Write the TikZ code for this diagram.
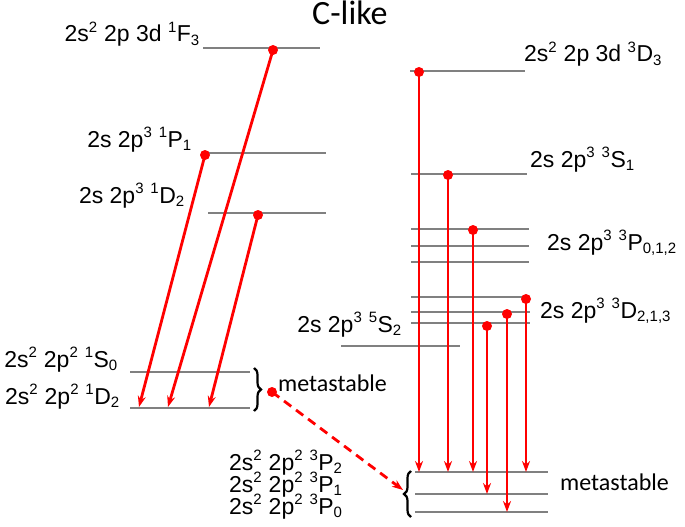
\documentclass[tikz,border=0pt]{standalone}
\usepackage{fontspec}
\setmainfont{Liberation Sans}
\newfontfamily\calibri{Carlito}
\usetikzlibrary{arrows.meta,decorations.pathreplacing}
\newcommand\hi[1]{\textsuperscript{\fontsize{15}{15}\selectfont #1}}
\newcommand\lo[1]{\textsubscript{\fontsize{15}{15}\selectfont #1}}
\tikzset{
  level/.style={draw=gray, line width=1.2pt},
  decay/.style={red, line width=2.8pt, -{Stealth[length=11pt,width=8pt]}},
  dot/.style={circle, fill=red, inner sep=0pt, minimum size=10pt},
  term/.style={font=\fontsize{23}{22}\selectfont, inner sep=0pt},
  meta/.style={font=\calibri\fontsize{24}{24}\selectfont, inner sep=0pt},
  bracket/.style={decorate, decoration={brace, amplitude=7pt}, line width=2.2pt},
}
\begin{document}
\begin{tikzpicture}[x=1pt, y=-1pt]
  \useasboundingbox (0,0) rectangle (685,527);

  \node[meta, font=\calibri\fontsize{34}{34}\selectfont, anchor=base west] (title) at (312,25) {C-like};

  \draw[level] (203,48) -- (320,48);
  \draw[level] (207,153) -- (326,153);
  \draw[level] (208,213) -- (326,213);
  \draw[level] (130,372) -- (250,372);
  \draw[level] (130,408) -- (250,408);

  \node[term, anchor=base east] (F3) at (200,42) {2s\hi{2} 2p 3d \hi{1}F\lo{3}};
  \node[term, anchor=base east] (P1) at (192,147) {2s 2p\hi{3} \hi{1}P\lo{1}};
  \node[term, anchor=base east] (D2u) at (185,203) {2s 2p\hi{3} \hi{1}D\lo{2}};
  \node[term, anchor=base east] (S0) at (118,367) {2s\hi{2} 2p\hi{2} \hi{1}S\lo{0}};
  \node[term, anchor=base east] (D2) at (120,404) {2s\hi{2} 2p\hi{2} \hi{1}D\lo{2}};

  \node[dot] (dF3) at (273,50) {};
  \node[dot] (dP1) at (205,155) {};
  \node[dot] (dD2u) at (258,215) {};
  \coordinate (eF3) at (168,407);
  \coordinate (eP1) at (139,407);
  \coordinate (eD2u) at (209,407);
  \draw[decay] (dF3.center) -- (eF3);
  \draw[decay] (dP1.center) -- (eP1);
  \draw[decay] (dD2u.center) -- (eD2u);

  \draw[bracket] (254,368) -- (254,411);
  \node[meta, anchor=base west] (meta1) at (278,391) {metastable};

  \draw[level] (410,71) -- (525,71);
  \draw[level] (411,174) -- (527,174);
  \draw[level] (411,229) -- (529,229);
  \draw[level] (411,246) -- (529,246);
  \draw[level] (411,262) -- (529,262);
  \draw[level] (411,297) -- (530,297);
  \draw[level] (411,312) -- (530,312);
  \draw[level] (411,323) -- (530,323);
  \draw[level] (341,346) -- (460,346);
  \draw[level] (415,472) -- (548,472);
  \draw[level] (415,494) -- (548,494);
  \draw[level] (415,512) -- (548,512);

  \node[term, anchor=base west] (D3) at (524,62) {2s\hi{2} 2p 3d \hi{3}D\lo{3}};
  \node[term, anchor=base west] (S1) at (530,167) {2s 2p\hi{3} \hi{3}S\lo{1}};
  \node[term, anchor=base west] (P012) at (547,250) {2s 2p\hi{3} \hi{3}P\lo{0,1,2}};
  \node[term, anchor=base west] (D213) at (540,318) {2s 2p\hi{3} \hi{3}D\lo{2,1,3}};
  \node[term, anchor=base east] (S2) at (402,332) {2s 2p\hi{3} \hi{5}S\lo{2}};
  \node[term, anchor=base west] (P2) at (229,470) {2s\hi{2} 2p\hi{2} \hi{3}P\lo{2}};
  \node[term, anchor=base west] (P1b) at (229,492) {2s\hi{2} 2p\hi{2} \hi{3}P\lo{1}};
  \node[term, anchor=base west] (P0) at (229,514) {2s\hi{2} 2p\hi{2} \hi{3}P\lo{0}};

  \node[dot] (dD3) at (419,72) {};
  \node[dot] (dS1) at (448,175) {};
  \node[dot] (dP) at (473,230) {};
  \node[dot] (dDa) at (526,299) {};
  \node[dot] (dDb) at (507,314) {};
  \node[dot] (dDc) at (487,326) {};
  \coordinate (eD3) at (419,472);
  \coordinate (eS1) at (448,472);
  \coordinate (eP) at (473,472);
  \coordinate (eDa) at (526,472);
  \coordinate (eDb) at (507,512);
  \coordinate (eDc) at (487,494);
  \draw[decay] (dD3.center) -- (eD3);
  \draw[decay] (dS1.center) -- (eS1);
  \draw[decay] (dP.center) -- (eP);
  \draw[decay] (dDa.center) -- (eDa);
  \draw[decay] (dDb.center) -- (eDb);
  \draw[decay] (dDc.center) -- (eDc);

  \draw[bracket] (411,517) -- (411,471);
  \node[meta, anchor=base west] (meta2) at (560,490) {metastable};

  \node[dot] (dm) at (272,392) {};
  \coordinate (em) at (403,490);
  \draw[decay, dash pattern=on 9pt off 6pt] (dm.center) -- (em);
\end{tikzpicture}
\end{document}
